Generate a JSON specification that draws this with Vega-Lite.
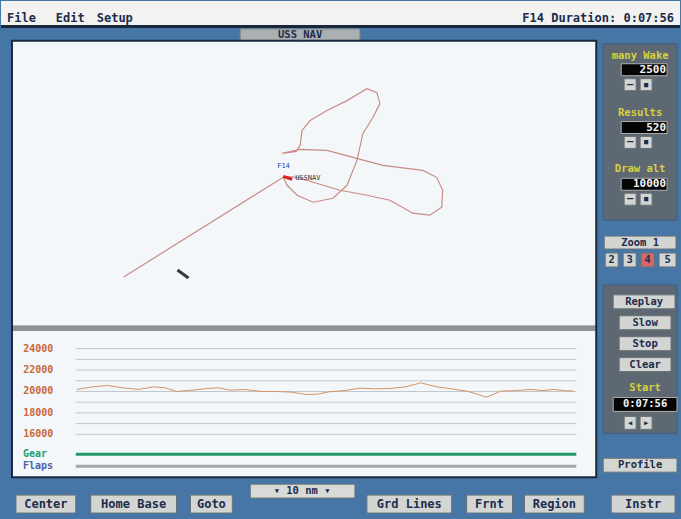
{
  "$schema": "https://vega.github.io/schema/vega-lite/v6.json",
  "width": 681,
  "height": 519,
  "autosize": {"type": "fit", "contains": "padding"},
  "padding": 0,
  "background": "#4676a6",
  "config": {
    "view": {"stroke": null},
    "axis": {"disable": true},
    "legend": {"disable": true},
    "text": {"font": "DejaVu Sans Mono", "fontWeight": "bold", "fontSize": 11, "baseline": "middle"}
  },
  "datasets": {
    "boxes": [
      {"kind": "menu", "left": 0, "right": 681, "top": 0, "bottom": 25},
      {"kind": "blue", "left": 0, "right": 681, "top": 25, "bottom": 519},
      {"kind": "dark", "left": 0, "right": 681, "top": 24, "bottom": 27},
      {"kind": "tab", "left": 240, "right": 360, "top": 28, "bottom": 40},
      {"kind": "dark", "left": 10, "right": 598, "top": 39, "bottom": 479},
      {"kind": "plot", "left": 12, "right": 596, "top": 41, "bottom": 326},
      {"kind": "divider", "left": 12, "right": 596, "top": 326, "bottom": 331},
      {"kind": "plot", "left": 12, "right": 596, "top": 331, "bottom": 477},
      {"kind": "panel", "left": 604, "right": 678, "top": 43, "bottom": 220},
      {"kind": "display", "left": 622, "right": 668, "top": 63, "bottom": 75},
      {"kind": "button", "left": 625, "right": 637, "top": 78, "bottom": 90},
      {"kind": "button", "left": 641, "right": 653, "top": 78, "bottom": 90},
      {"kind": "display", "left": 622, "right": 668, "top": 121, "bottom": 133},
      {"kind": "button", "left": 625, "right": 637, "top": 136, "bottom": 148},
      {"kind": "button", "left": 641, "right": 653, "top": 136, "bottom": 148},
      {"kind": "display", "left": 622, "right": 668, "top": 178, "bottom": 190},
      {"kind": "button", "left": 625, "right": 637, "top": 193, "bottom": 205},
      {"kind": "button", "left": 641, "right": 653, "top": 193, "bottom": 205},
      {"kind": "button", "left": 605, "right": 677, "top": 236, "bottom": 249},
      {"kind": "button", "left": 606, "right": 619, "top": 253, "bottom": 267},
      {"kind": "button", "left": 624, "right": 637, "top": 253, "bottom": 267},
      {"kind": "hot", "left": 642, "right": 655, "top": 253, "bottom": 267},
      {"kind": "button", "left": 660, "right": 677, "top": 253, "bottom": 267},
      {"kind": "panel", "left": 604, "right": 678, "top": 285, "bottom": 434},
      {"kind": "button", "left": 614, "right": 676, "top": 295, "bottom": 309},
      {"kind": "button", "left": 620, "right": 672, "top": 316, "bottom": 330},
      {"kind": "button", "left": 620, "right": 672, "top": 337, "bottom": 351},
      {"kind": "button", "left": 620, "right": 672, "top": 358, "bottom": 372},
      {"kind": "display", "left": 614, "right": 678, "top": 398, "bottom": 412},
      {"kind": "button", "left": 625, "right": 637, "top": 417, "bottom": 430},
      {"kind": "button", "left": 641, "right": 653, "top": 417, "bottom": 430},
      {"kind": "button", "left": 604, "right": 678, "top": 459, "bottom": 473},
      {"kind": "drop", "left": 250, "right": 355, "top": 485, "bottom": 499},
      {"kind": "button", "left": 15, "right": 75, "top": 496, "bottom": 514},
      {"kind": "button", "left": 90, "right": 176, "top": 496, "bottom": 514},
      {"kind": "button", "left": 190, "right": 232, "top": 496, "bottom": 514},
      {"kind": "button", "left": 367, "right": 452, "top": 496, "bottom": 514},
      {"kind": "button", "left": 467, "right": 513, "top": 496, "bottom": 514},
      {"kind": "button", "left": 525, "right": 585, "top": 496, "bottom": 514},
      {"kind": "button", "left": 612, "right": 676, "top": 496, "bottom": 514}
    ],
    "labels": [
      {"kind": "menu", "px": 6, "py": 17, "text": "File"},
      {"kind": "menu", "px": 55, "py": 17, "text": "Edit"},
      {"kind": "menu", "px": 96, "py": 17, "text": "Setup"},
      {"kind": "status", "px": 675, "py": 17, "text": "F14 Duration: 0:07:56"},
      {"kind": "btn", "px": 300, "py": 34, "text": "USS_NAV"},
      {"kind": "caption", "px": 641, "py": 55, "text": "many Wake"},
      {"kind": "caption", "px": 641, "py": 112, "text": "Results"},
      {"kind": "caption", "px": 641, "py": 169, "text": "Draw alt"},
      {"kind": "caption", "px": 646, "py": 388, "text": "Start"},
      {"kind": "readout", "px": 667, "py": 69, "text": "2500"},
      {"kind": "readout", "px": 667, "py": 127, "text": "520"},
      {"kind": "readout", "px": 667, "py": 184, "text": "10000"},
      {"kind": "clock", "px": 646, "py": 405, "text": "0:07:56"},
      {"kind": "btn", "px": 631, "py": 84, "text": "–"},
      {"kind": "btn", "px": 647, "py": 84, "text": "▪"},
      {"kind": "btn", "px": 631, "py": 142, "text": "–"},
      {"kind": "btn", "px": 647, "py": 142, "text": "▪"},
      {"kind": "btn", "px": 631, "py": 199, "text": "–"},
      {"kind": "btn", "px": 647, "py": 199, "text": "▪"},
      {"kind": "btn", "px": 641, "py": 243, "text": "Zoom 1"},
      {"kind": "btn", "px": 612.5, "py": 260, "text": "2"},
      {"kind": "btn", "px": 630.5, "py": 260, "text": "3"},
      {"kind": "btn", "px": 648.5, "py": 260, "text": "4"},
      {"kind": "btn", "px": 668.5, "py": 260, "text": "5"},
      {"kind": "btn", "px": 645, "py": 302, "text": "Replay"},
      {"kind": "btn", "px": 646, "py": 323, "text": "Slow"},
      {"kind": "btn", "px": 646, "py": 344, "text": "Stop"},
      {"kind": "btn", "px": 646, "py": 365, "text": "Clear"},
      {"kind": "btn", "px": 631, "py": 424, "text": "◂"},
      {"kind": "btn", "px": 647, "py": 424, "text": "▸"},
      {"kind": "btn", "px": 641, "py": 466, "text": "Profile"},
      {"kind": "big", "px": 45, "py": 505, "text": "Center"},
      {"kind": "big", "px": 133, "py": 505, "text": "Home Base"},
      {"kind": "big", "px": 211, "py": 505, "text": "Goto"},
      {"kind": "btn", "px": 302, "py": 492, "text": "▾   10 nm   ▾"},
      {"kind": "big", "px": 409.5, "py": 505, "text": "Grd Lines"},
      {"kind": "big", "px": 490, "py": 505, "text": "Frnt"},
      {"kind": "big", "px": 555, "py": 505, "text": "Region"},
      {"kind": "big", "px": 644, "py": 505, "text": "Instr"},
      {"kind": "gear", "px": 22, "py": 455, "text": "Gear"},
      {"kind": "flaps", "px": 22, "py": 467, "text": "Flaps"},
      {"kind": "mapblue", "px": 277, "py": 166, "text": "F14"},
      {"kind": "mapdark", "px": 295, "py": 178, "text": "USSNAV"}
    ],
    "segments": [
      {"kind": "dash", "px": 177, "py": 270, "px2": 188, "py2": 278},
      {"kind": "marker", "px": 283, "py": 176, "px2": 292, "py2": 179},
      {"kind": "gear", "px": 75, "py": 455, "px2": 577, "py2": 455},
      {"kind": "flaps", "px": 75, "py": 467, "px2": 577, "py2": 467}
    ],
    "track": [
      {"seq": 1, "px": 123, "py": 277},
      {"seq": 2, "px": 283, "py": 177},
      {"seq": 3, "px": 287, "py": 185},
      {"seq": 4, "px": 297, "py": 195},
      {"seq": 5, "px": 313, "py": 202},
      {"seq": 6, "px": 333, "py": 198},
      {"seq": 7, "px": 347, "py": 185},
      {"seq": 8, "px": 357, "py": 160},
      {"seq": 9, "px": 363, "py": 133},
      {"seq": 10, "px": 373, "py": 117},
      {"seq": 11, "px": 380, "py": 103},
      {"seq": 12, "px": 377, "py": 92},
      {"seq": 13, "px": 367, "py": 88},
      {"seq": 14, "px": 347, "py": 100},
      {"seq": 15, "px": 327, "py": 110},
      {"seq": 16, "px": 310, "py": 120},
      {"seq": 17, "px": 302, "py": 130},
      {"seq": 18, "px": 300, "py": 145},
      {"seq": 19, "px": 296, "py": 151},
      {"seq": 20, "px": 282, "py": 153},
      {"seq": 21, "px": 300, "py": 149},
      {"seq": 22, "px": 327, "py": 150},
      {"seq": 23, "px": 353, "py": 157},
      {"seq": 24, "px": 383, "py": 165},
      {"seq": 25, "px": 423, "py": 170},
      {"seq": 26, "px": 437, "py": 177},
      {"seq": 27, "px": 443, "py": 190},
      {"seq": 28, "px": 442, "py": 207},
      {"seq": 29, "px": 430, "py": 215},
      {"seq": 30, "px": 413, "py": 213},
      {"seq": 31, "px": 390, "py": 200},
      {"seq": 32, "px": 367, "py": 195},
      {"seq": 33, "px": 340, "py": 190},
      {"seq": 34, "px": 313, "py": 182},
      {"seq": 35, "px": 297, "py": 177},
      {"seq": 36, "px": 285, "py": 176}
    ],
    "grid": [
      {"alt": 16000}, {"alt": 17000}, {"alt": 18000}, {"alt": 19000}, {"alt": 20000},
      {"alt": 21000}, {"alt": 22000}, {"alt": 23000}, {"alt": 24000}
    ],
    "ticks": [
      {"alt": 16000, "text": "16000"}, {"alt": 18000, "text": "18000"}, {"alt": 20000, "text": "20000"},
      {"alt": 22000, "text": "22000"}, {"alt": 24000, "text": "24000"}
    ],
    "altitude": [
      {"t": 1, "alt": 20190}, {"t": 16, "alt": 20440}, {"t": 30, "alt": 20560}, {"t": 45, "alt": 20340},
      {"t": 60, "alt": 20190}, {"t": 74, "alt": 20440}, {"t": 85, "alt": 20340}, {"t": 96, "alt": 20000},
      {"t": 110, "alt": 20120}, {"t": 125, "alt": 20280}, {"t": 136, "alt": 20340}, {"t": 147, "alt": 20120},
      {"t": 161, "alt": 20190}, {"t": 176, "alt": 20000}, {"t": 190, "alt": 20000}, {"t": 205, "alt": 19940},
      {"t": 219, "alt": 19720}, {"t": 230, "alt": 19750}, {"t": 241, "alt": 19970}, {"t": 256, "alt": 20090},
      {"t": 270, "alt": 20310}, {"t": 285, "alt": 20250}, {"t": 299, "alt": 20280}, {"t": 314, "alt": 20440},
      {"t": 328, "alt": 20810}, {"t": 343, "alt": 20440}, {"t": 357, "alt": 20250}, {"t": 372, "alt": 20030},
      {"t": 383, "alt": 19720}, {"t": 390, "alt": 19470}, {"t": 397, "alt": 19720}, {"t": 404, "alt": 20030},
      {"t": 419, "alt": 20090}, {"t": 433, "alt": 20190}, {"t": 444, "alt": 20090}, {"t": 455, "alt": 20190},
      {"t": 466, "alt": 20060}, {"t": 473, "alt": 20060}
    ]
  },
  "layer": [
    {
      "layer": [
        {
          "data": {"name": "boxes"},
          "mark": {"type": "rect", "strokeWidth": 1},
          "encoding": {
            "x": {"field": "left", "type": "quantitative", "scale": {"domain": [0, 681], "nice": false, "zero": false}},
            "x2": {"field": "right"},
            "y": {"field": "top", "type": "quantitative", "scale": {"domain": [0, 519], "nice": false, "zero": false, "reverse": true}},
            "y2": {"field": "bottom"},
            "fill": {"field": "kind", "type": "nominal", "scale": {
              "domain": ["menu", "blue", "dark", "tab", "plot", "divider", "panel", "display", "button", "hot", "drop"],
              "range": ["#f2f2f0", "#4676a6", "#18283a", "#aab0b2", "#f4f7fa", "#8e9294", "#5e6872", "#050505", "#d2d5d2", "#d86868", "#d8dad8"]}},
            "stroke": {"field": "kind", "type": "nominal", "scale": {
              "domain": ["menu", "blue", "dark", "tab", "plot", "divider", "panel", "display", "button", "hot", "drop"],
              "range": ["transparent", "transparent", "transparent", "#80868a", "transparent", "transparent", "#3d5f8a", "#b0b0b0", "#6a7278", "#6a7278", "#6a7278"]}}
          }
        },
        {
          "data": {"name": "track"},
          "mark": {"type": "line", "color": "#c98c84", "strokeWidth": 1.2},
          "encoding": {
            "x": {"field": "px", "type": "quantitative", "scale": {"domain": [0, 681], "nice": false, "zero": false}},
            "y": {"field": "py", "type": "quantitative", "scale": {"domain": [0, 519], "nice": false, "zero": false, "reverse": true}},
            "order": {"field": "seq", "type": "quantitative"}
          }
        },
        {
          "data": {"name": "segments"},
          "mark": {"type": "rule", "strokeWidth": 3},
          "encoding": {
            "x": {"field": "px", "type": "quantitative", "scale": {"domain": [0, 681], "nice": false, "zero": false}},
            "y": {"field": "py", "type": "quantitative", "scale": {"domain": [0, 519], "nice": false, "zero": false, "reverse": true}},
            "x2": {"field": "px2"},
            "y2": {"field": "py2"},
            "color": {"field": "kind", "type": "nominal", "scale": {
              "domain": ["dash", "marker", "gear", "flaps"],
              "range": ["#303840", "#d82020", "#1f9a66", "#a4a6a8"]}}
          }
        },
        {
          "data": {"name": "labels"},
          "transform": [{"filter": {"field": "kind", "oneOf": ["menu"]}}],
          "mark": {"type": "text", "align": "left", "fontSize": 12, "color": "#1c2c4c"},
          "encoding": {
            "x": {"field": "px", "type": "quantitative", "scale": {"domain": [0, 681], "nice": false, "zero": false}},
            "y": {"field": "py", "type": "quantitative", "scale": {"domain": [0, 519], "nice": false, "zero": false, "reverse": true}},
            "text": {"field": "text"}
          }
        },
        {
          "data": {"name": "labels"},
          "transform": [{"filter": {"field": "kind", "oneOf": ["gear", "flaps"]}}],
          "mark": {"type": "text", "align": "left", "fontSize": 10},
          "encoding": {
            "x": {"field": "px", "type": "quantitative", "scale": {"domain": [0, 681], "nice": false, "zero": false}},
            "y": {"field": "py", "type": "quantitative", "scale": {"domain": [0, 519], "nice": false, "zero": false, "reverse": true}},
            "text": {"field": "text"},
            "color": {"field": "kind", "type": "nominal", "scale": {"domain": ["gear", "flaps"], "range": ["#20a070", "#4a62a8"]}}
          }
        },
        {
          "data": {"name": "labels"},
          "transform": [{"filter": {"field": "kind", "oneOf": ["mapblue", "mapdark"]}}],
          "mark": {"type": "text", "align": "left", "fontSize": 7, "fontWeight": "normal"},
          "encoding": {
            "x": {"field": "px", "type": "quantitative", "scale": {"domain": [0, 681], "nice": false, "zero": false}},
            "y": {"field": "py", "type": "quantitative", "scale": {"domain": [0, 519], "nice": false, "zero": false, "reverse": true}},
            "text": {"field": "text"},
            "color": {"field": "kind", "type": "nominal", "scale": {"domain": ["mapblue", "mapdark"], "range": ["#2040b0", "#303030"]}}
          }
        },
        {
          "data": {"name": "labels"},
          "transform": [{"filter": {"field": "kind", "oneOf": ["status"]}}],
          "mark": {"type": "text", "align": "right", "fontSize": 12, "color": "#1c2c4c"},
          "encoding": {
            "x": {"field": "px", "type": "quantitative", "scale": {"domain": [0, 681], "nice": false, "zero": false}},
            "y": {"field": "py", "type": "quantitative", "scale": {"domain": [0, 519], "nice": false, "zero": false, "reverse": true}},
            "text": {"field": "text"}
          }
        },
        {
          "data": {"name": "labels"},
          "transform": [{"filter": {"field": "kind", "oneOf": ["readout"]}}],
          "mark": {"type": "text", "align": "right", "fontSize": 11, "color": "#f4f4f4"},
          "encoding": {
            "x": {"field": "px", "type": "quantitative", "scale": {"domain": [0, 681], "nice": false, "zero": false}},
            "y": {"field": "py", "type": "quantitative", "scale": {"domain": [0, 519], "nice": false, "zero": false, "reverse": true}},
            "text": {"field": "text"}
          }
        },
        {
          "data": {"name": "labels"},
          "transform": [{"filter": {"field": "kind", "oneOf": ["btn", "caption", "clock"]}}],
          "mark": {"type": "text", "align": "center", "fontSize": 10.5},
          "encoding": {
            "x": {"field": "px", "type": "quantitative", "scale": {"domain": [0, 681], "nice": false, "zero": false}},
            "y": {"field": "py", "type": "quantitative", "scale": {"domain": [0, 519], "nice": false, "zero": false, "reverse": true}},
            "text": {"field": "text"},
            "color": {"field": "kind", "type": "nominal", "scale": {"domain": ["btn", "caption", "clock"], "range": ["#1c2c4c", "#d8d040", "#f4f4f4"]}}
          }
        },
        {
          "data": {"name": "labels"},
          "transform": [{"filter": {"field": "kind", "oneOf": ["big"]}}],
          "mark": {"type": "text", "align": "center", "fontSize": 12, "color": "#1c2c4c"},
          "encoding": {
            "x": {"field": "px", "type": "quantitative", "scale": {"domain": [0, 681], "nice": false, "zero": false}},
            "y": {"field": "py", "type": "quantitative", "scale": {"domain": [0, 519], "nice": false, "zero": false, "reverse": true}},
            "text": {"field": "text"}
          }
        }
      ],
      "resolve": {"scale": {"color": "independent", "fill": "independent", "stroke": "independent"}}
    },
    {
      "layer": [
        {
          "data": {"name": "grid"},
          "mark": {"type": "rule", "color": "#c3c7cb", "strokeWidth": 1},
          "encoding": {
            "y": {"field": "alt", "type": "quantitative", "scale": {"domain": [8186, 56465], "nice": false, "zero": false}},
            "x": {"datum": 0, "type": "quantitative", "scale": {"domain": [-71.12, 574.61], "nice": false, "zero": false}},
            "x2": {"datum": 476}
          }
        },
        {
          "data": {"name": "ticks"},
          "mark": {"type": "text", "align": "left", "color": "#c8683a", "fontSize": 10},
          "encoding": {
            "y": {"field": "alt", "type": "quantitative", "scale": {"domain": [8186, 56465], "nice": false, "zero": false}},
            "x": {"datum": -50, "type": "quantitative", "scale": {"domain": [-71.12, 574.61], "nice": false, "zero": false}},
            "text": {"field": "text"}
          }
        },
        {
          "data": {"name": "altitude"},
          "mark": {"type": "line", "color": "#d49468", "strokeWidth": 1},
          "encoding": {
            "x": {"field": "t", "type": "quantitative", "scale": {"domain": [-71.12, 574.61], "nice": false, "zero": false}},
            "y": {"field": "alt", "type": "quantitative", "scale": {"domain": [8186, 56465], "nice": false, "zero": false}}
          }
        }
      ]
    }
  ],
  "resolve": {"scale": {"x": "independent", "y": "independent", "color": "independent"}}
}
